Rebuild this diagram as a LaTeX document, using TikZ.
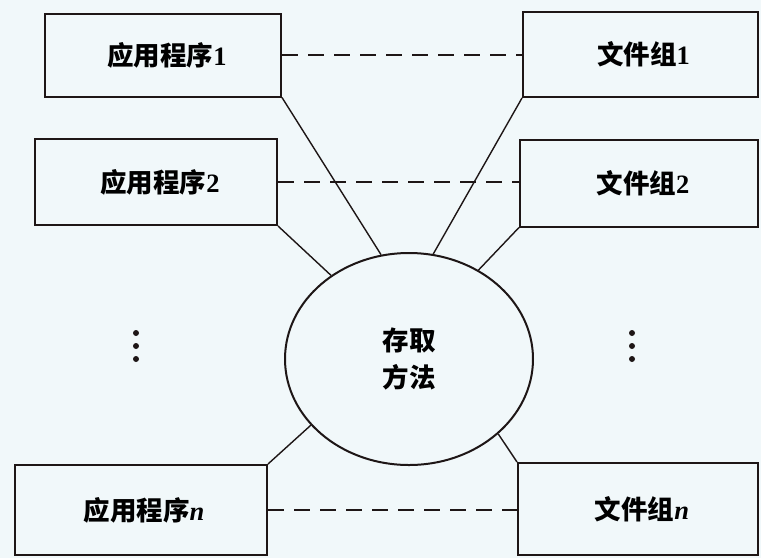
\documentclass[tikz,border=0pt]{standalone}
\usepackage{fontspec}
\setmainfont{Liberation Serif}
\newfontfamily\cjk{Noto Sans CJK SC}
\usetikzlibrary{shapes.geometric}
\definecolor{bgc}{RGB}{241,248,250}
\definecolor{ink}{RGB}{30,22,22}
\tikzset{
  box/.style={draw=ink, line width=2pt, fill=bgc, inner sep=0pt, font=\fontsize{26.5}{32}\selectfont\bfseries},
  conn/.style={draw=ink, line width=1.4pt},
  dashconn/.style={draw=ink, line width=1.4pt, dash pattern=on 16pt off 10pt},
  dotmark/.style={circle, fill=ink, inner sep=0pt, minimum size=6pt}
}
\newcommand{\zh}[1]{{\cjk\bfseries #1}}
\newcommand{\lbl}[1]{\textbf{#1}}
\begin{document}
\begin{tikzpicture}[x=1pt,y=-1pt]
\fill[bgc] (0,0) rectangle (761,558);
\useasboundingbox (0,0) rectangle (761,558);
% left boxes
\node[box, minimum width=236pt, minimum height=83pt] (a1) at (163,55) {\hspace*{8pt}\zh{应用程序}\lbl{1}};
\node[box, minimum width=242pt, minimum height=86pt] (a2) at (156,182) {\hspace*{8pt}\zh{应用程序}\lbl{2}};
\node[box, minimum width=252pt, minimum height=90pt] (an) at (141,510) {\hspace*{6pt}\zh{应用程序}\lbl{\textit{n}}};
% right boxes
\node[box, minimum width=235pt, minimum height=85pt] (f1) at (640.5,54.5) {\hspace*{6pt}\zh{文件组}\lbl{1}};
\node[box, minimum width=238pt, minimum height=87pt] (f2) at (639,183) {\hspace*{8pt}\zh{文件组}\lbl{2}};
\node[box, minimum width=240pt, minimum height=92pt] (fn) at (638,509) {\hspace*{8pt}\zh{文件组}\lbl{\textit{n}}};
% ellipse
\node[ellipse, draw=ink, line width=2pt, fill=bgc, minimum width=248pt, minimum height=212pt, inner sep=0pt,
      align=center, font=\fontsize{26.5}{37}\selectfont] (e) at (409,359) {\zh{存取}\\\zh{方法}};
% dashed links
\draw[dashconn] (a1.east) -- (f1.west |- a1.east);
\draw[dashconn] (a2.east) -- (f2.west |- a2.east);
\draw[dashconn] (an.east) -- (fn.west |- an.east);
% solid links
\draw[conn] (a1.south east) -- (e.105.7);
\draw[conn] (a2.south east) -- (e.133.2);
\draw[conn] (an.north east) -- (e.214);
\draw[conn] (f1.south west) -- (e.77.5);
\draw[conn] (f2.south west) -- (e.52.8);
\draw[conn] (fn.north west) -- (e.320.6);
% ellipsis dots
\node[dotmark] (l1) at (136,333) {};
\node[dotmark] (l2) at (136,346) {};
\node[dotmark] (l3) at (136,359) {};
\node[dotmark] (r1) at (632,333) {};
\node[dotmark] (r2) at (632,346) {};
\node[dotmark] (r3) at (632,359) {};
\end{tikzpicture}
\end{document}
